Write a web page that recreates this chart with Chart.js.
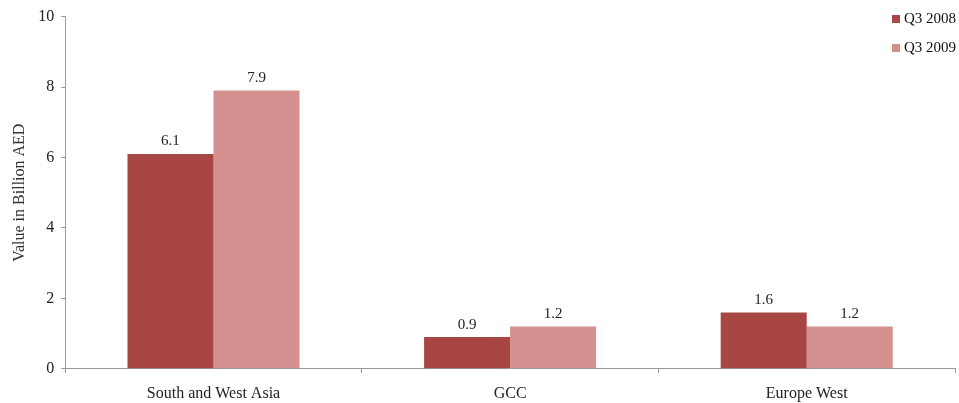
<!DOCTYPE html>
<html>
<head>
<meta charset="utf-8">
<script src="https://cdn.jsdelivr.net/npm/chart.js@4/dist/chart.umd.min.js"></script>
<style>
  html, body { margin: 0; padding: 0; background: #fff; }
  #wrap { width: 959px; height: 403px; }
</style>
</head>
<body>
<div id="wrap"><canvas id="regions-chart"></canvas></div>
<script>
const regions = ["South and West Asia", "GCC", "Europe West"];
const q3_2008 = [6.1, 0.9, 1.6];
const q3_2009 = [7.9, 1.2, 1.2];
const seriesNames = ["Q3 2008", "Q3 2009"];

const serif = "'Liberation Serif', 'Times New Roman', serif";

// value printed above each bar
const barValues = {
    id: "barValues",
    afterDatasetsDraw(chart) {
        const ctx = chart.ctx;
        ctx.save();
        ctx.font = "15px " + serif;
        ctx.fillStyle = "#222";
        ctx.textAlign = "center";
        ctx.textBaseline = "bottom";
        chart.data.datasets.forEach((ds, i) => {
            chart.getDatasetMeta(i).data.forEach((bar, j) => {
                ctx.fillText(ds.data[j].toFixed(1), bar.x, bar.y - 5);
            });
        });
        ctx.restore();
    }
};

// stacked legend in the top right corner, drawn over the plot
const cornerLegend = {
    id: "cornerLegend",
    afterDraw(chart) {
        const ctx = chart.ctx;
        ctx.save();
        ctx.font = "15px " + serif;
        ctx.textBaseline = "middle";
        chart.data.datasets.forEach((ds, i) => {
            const y = 19 + i * 29;
            ctx.fillStyle = ds.backgroundColor;
            ctx.fillRect(892, y - 4, 8, 8);
            ctx.fillStyle = "#111";
            ctx.fillText(ds.label, 904, y);
        });
        ctx.restore();
    }
};

const data = {
    labels: regions,
    datasets: [
        {
            label: seriesNames[0],
            backgroundColor: "rgb(168, 70, 68)",
            data: q3_2008,
        },
        {
            label: seriesNames[1],
            backgroundColor: "rgb(212, 145, 143)",
            data: q3_2009,
        },
    ],
};

const config = {
    type: "bar",
    data: data,
    options: {
        responsive: true,
        maintainAspectRatio: false,
        animation: false,
        layout: { padding: { top: 15, right: 4, left: 10, bottom: -11 } },
        datasets: {
            bar: { categoryPercentage: 0.58, barPercentage: 1.0 }
        },
        plugins: {
            legend: { display: false },
            tooltip: { enabled: false },
        },
        scales: {
            x: {
                grid: { drawOnChartArea: false, drawTicks: true, tickLength: 4, color: "#999" },
                border: { color: "#999" },
                ticks: { font: { family: serif, size: 16 }, color: "#222", padding: 11 },
            },
            y: {
                min: 0,
                max: 10,
                ticks: { stepSize: 2, font: { family: serif, size: 16 }, color: "#222", padding: 7 },
                grid: { drawOnChartArea: false, drawTicks: true, tickLength: 4, color: "#999" },
                border: { color: "#999" },
                title: {
                    display: true,
                    text: "Value in Billion AED",
                    font: { family: serif, size: 16 },
                    color: "#333",
                    padding: { top: 0, bottom: 2 },
                },
            },
        },
    },
    plugins: [barValues, cornerLegend],
};

new Chart(document.querySelector("#regions-chart"), config);
</script>
</body>
</html>
